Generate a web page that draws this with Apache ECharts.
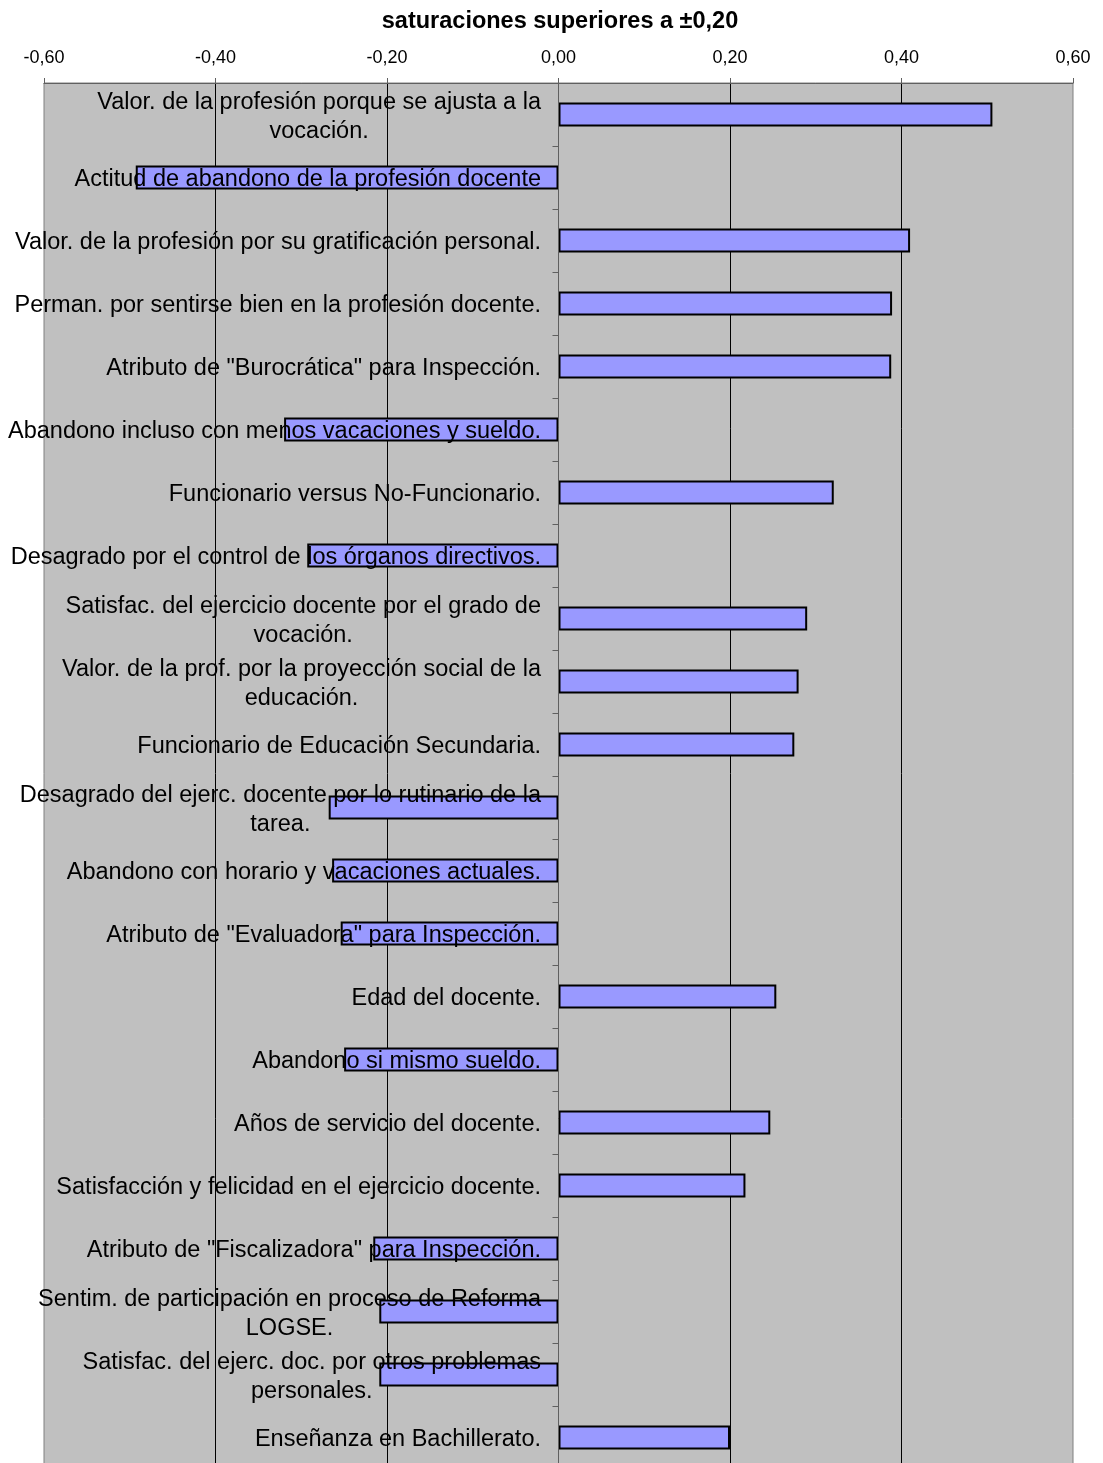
<!DOCTYPE html>
<html>
<head>
<meta charset="utf-8">
<script src="https://cdn.jsdelivr.net/npm/echarts@6/dist/echarts.min.js"></script>
<style>
html,body{margin:0;padding:0;background:#fff;}
#chart{width:1103px;height:1463px;}
</style>
</head>
<body>
<div id="chart"></div>
<script>
var titleText = 'saturaciones superiores a \u00b10,20';

var categories = [
  'Valor. de la profesión porque se ajusta a la\nvocación.',
  'Actitud de abandono de la profesión docente',
  'Valor. de la profesión por su gratificación personal.',
  'Perman. por sentirse bien en la profesión docente.',
  'Atributo de "Burocrática" para Inspección.',
  'Abandono incluso con menos vacaciones y sueldo.',
  'Funcionario versus No-Funcionario.',
  'Desagrado por el control de los órganos directivos.',
  'Satisfac. del ejercicio docente por el grado de\nvocación.',
  'Valor. de la prof. por la proyección social de la\neducación.',
  'Funcionario de Educación Secundaria.',
  'Desagrado del ejerc. docente por lo rutinario de la\ntarea.',
  'Abandono con horario y vacaciones actuales.',
  'Atributo de "Evaluadora" para Inspección.',
  'Edad del docente.',
  'Abandono si mismo sueldo.',
  'Años de servicio del docente.',
  'Satisfacción y felicidad en el ejercicio docente.',
  'Atributo de "Fiscalizadora" para Inspección.',
  'Sentim. de participación en proceso de Reforma\nLOGSE.',
  'Satisfac. del ejerc. doc. por otros problemas\npersonales.',
  'Enseñanza en Bachillerato.'
];

var saturaciones = [
  0.506, -0.493, 0.410, 0.389, 0.388, -0.320, 0.321, -0.293,
  0.290, 0.280, 0.275, -0.268, -0.264, -0.254, 0.254, -0.250,
  0.247, 0.218, -0.216, -0.209, -0.209, 0.200
];

var axisMin = -0.6, axisMax = 0.6, axisStep = 0.2;

var chart = echarts.init(document.getElementById('chart'));
var FONT = 'Liberation Sans, Arial, sans-serif';

chart.setOption({
  animation: false,
  backgroundColor: '#ffffff',
  title: {
    text: titleText,
    left: 555,
    top: 5,
    textAlign: 'center',
    textStyle: { fontFamily: FONT, fontSize: 23.5, fontWeight: 'bold', color: '#000' }
  },
  grid: {
    left: 44,
    top: 83,
    width: 1029,
    height: 1386,
    containLabel: false,
    outerBoundsMode: 'none',
    show: true,
    backgroundColor: '#C0C0C0',
    borderColor: '#808080',
    borderWidth: 1
  },
  xAxis: {
    type: 'value',
    position: 'top',
    min: axisMin,
    max: axisMax,
    interval: axisStep,
    axisLine: { show: true, lineStyle: { color: '#606060', width: 1 } },
    axisTick: { show: true, length: 5, lineStyle: { color: '#606060' } },
    axisLabel: {
      margin: 16,
      fontFamily: FONT,
      fontSize: 18,
      color: '#000',
      formatter: function (v) { return v.toFixed(2).replace('.', ','); }
    },
    splitLine: { show: true, showMinLine: false, showMaxLine: false, lineStyle: { color: '#000', width: 1 } }
  },
  yAxis: {
    type: 'category',
    inverse: true,
    data: categories,
    z: 10,
    axisLine: { show: true, onZero: true, lineStyle: { color: '#606060', width: 1 } },
    axisTick: { show: true, length: 6, lineStyle: { color: '#606060' } },
    splitLine: { show: false },
    axisLabel: {
      interval: 0,
      margin: -497,
      align: 'right',
      padding: [5, 0, 0, 0],
      formatter: function (v) {
        return v.split('\n').map(function (l) { return '{c|' + l + '}'; }).join('\n');
      },
      rich: {
        c: { align: 'center', fontFamily: FONT, fontSize: 23.5, lineHeight: 29, color: '#000' }
      }
    }
  },
  series: [{
    type: 'bar',
    data: saturaciones,
    barWidth: 24,
    itemStyle: { color: '#9999FF', borderColor: '#000', borderWidth: 2 }
  }]
});
</script>
</body>
</html>
